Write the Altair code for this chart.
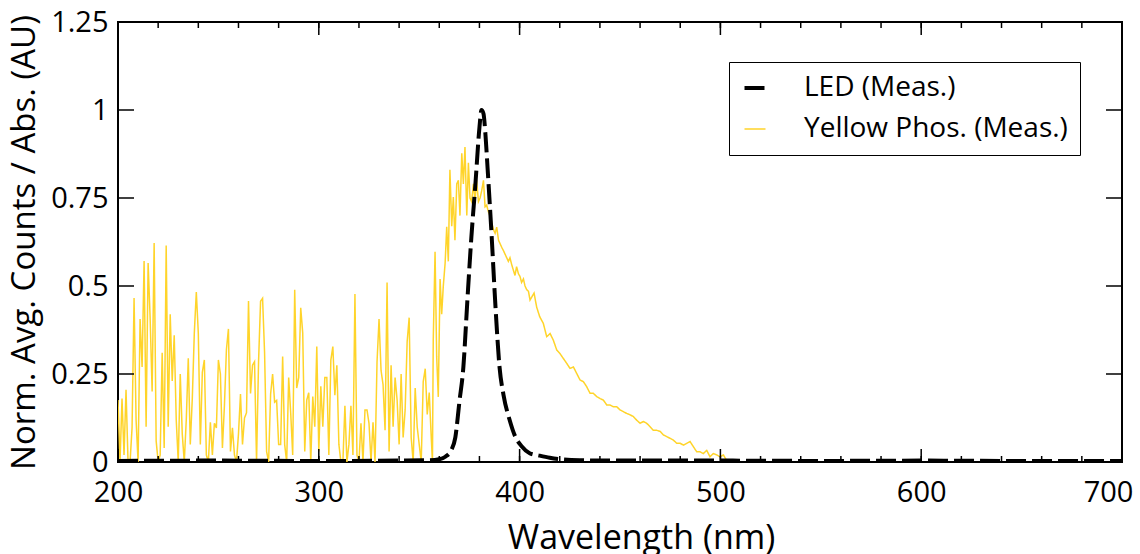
import altair as alt
import pandas as pd

# ---------------- data ----------------
SERIES_LED = "LED (Meas.)"
SERIES_YEL = "Yellow Phos. (Meas.)"

# Yellow phosphor: noisy part, 1 nm steps from 200 to 355 nm
yel_noise_start = 200
yel_noise_vals = [
    0.176, 0.0, 0.18, 0.02, 0.205, 0.0, 0.0, 0.097, 0.466, 0.12,
    0.0, 0.406, 0.27, 0.571, 0.1, 0.565, 0.41, 0.2, 0.622, 0.06,
    0.0, 0.02, 0.31, 0.04, 0.615, 0.1, 0.42, 0.23, 0.36, 0.12,
    0.0, 0.25, 0.08, 0.0, 0.12, 0.295, 0.05, 0.18, 0.366, 0.483,
    0.365, 0.05, 0.255, 0.29, 0.02, 0.0, 0.113, 0.02, 0.11, 0.097,
    0.29, 0.25, 0.04, 0.16, 0.32, 0.378, 0.03, 0.097, 0.02, 0.0,
    0.08, 0.193, 0.05, 0.125, 0.14, 0.457, 0.195, 0.275, 0.285, 0.0,
    0.285, 0.457, 0.465, 0.31, 0.03, 0.0, 0.193, 0.25, 0.17, 0.175,
    0.05, 0.05, 0.30, 0.05, 0.0, 0.24, 0.14, 0.02, 0.489, 0.21,
    0.24, 0.438, 0.366, 0.03, 0.176, 0.197, 0.0, 0.186, 0.1, 0.328,
    0.03, 0.215, 0.1, 0.24, 0.24, 0.02, 0.29, 0.328, 0.19, 0.275,
    0.05, 0.0, 0.0, 0.16, 0.0, 0.05, 0.16, 0.02, 0.477, 0.02,
    0.0, 0.11, 0.0, 0.148, 0.148, 0.11, 0.0, 0.113, 0.0, 0.285,
    0.406, 0.26, 0.22, 0.09, 0.51, 0.03, 0.275, 0.1, 0.24, 0.176,
    0.05, 0.25, 0.07, 0.148, 0.342, 0.41, 0.07, 0.0, 0.21, 0.1,
    0.05, 0.0, 0.228, 0.265, 0.135, 0.197,
]

# Yellow phosphor: emission band
yel_band_wl = [
    356.0, 356.6, 357.0, 357.9, 358.7, 359.5, 360.4, 361.2, 362.0, 362.9,
    363.7, 364.5, 365.3, 366.2, 367.0, 367.8, 368.7, 369.5, 370.3, 371.2,
    372.0, 372.8, 373.7, 374.5, 375.3, 376.1, 377.0, 377.8, 378.6, 379.5,
    380.3, 381.1, 382.0, 382.8, 383.6, 384.5, 385.3, 386.1, 387.0, 387.8,
    388.6, 389.5, 390.3, 391.1, 392.0, 392.8, 393.6, 394.4, 395.2, 396.1,
    396.9, 397.7, 398.5, 399.4, 400.2, 401.0, 401.9, 402.7, 403.5, 404.4,
    405.2, 407.2, 408.5, 410.0, 411.8, 413.5, 415.2, 416.8, 418.5, 420.1,
    421.8, 423.5, 425.1, 426.8, 428.4, 430.1, 431.8, 433.4, 435.1, 436.7,
    438.4, 440.1, 441.7, 443.4, 445.0, 446.7, 448.4, 450.0, 451.7, 453.3,
    455.0, 456.7, 458.3, 460.0, 461.6, 463.3, 465.0, 466.6, 468.3, 470.0,
    471.6, 473.3, 475.0, 476.6, 478.3, 480.0, 481.6, 483.2, 484.9, 486.6,
    488.2, 489.9, 491.5, 493.2, 494.8, 496.5, 498.2, 499.8, 501.5, 503.0,
]
yel_band_vals = [
    0.07, 0.0, 0.347, 0.597, 0.30, 0.185, 0.52, 0.42, 0.50, 0.564,
    0.668, 0.57, 0.83, 0.67, 0.753, 0.63, 0.79, 0.80, 0.70, 0.877,
    0.79, 0.895, 0.70, 0.85, 0.75, 0.74, 0.79, 0.74, 0.80, 0.74,
    0.75, 0.77, 0.80, 0.725, 0.73, 0.71, 0.70, 0.68, 0.66, 0.65,
    0.667, 0.63, 0.62, 0.61, 0.60, 0.59, 0.58, 0.57, 0.58, 0.56,
    0.545, 0.53, 0.555, 0.535, 0.527, 0.51, 0.52, 0.50, 0.49, 0.485,
    0.46, 0.48, 0.44, 0.413, 0.394, 0.356, 0.365, 0.346, 0.318, 0.308,
    0.294, 0.28, 0.266, 0.27, 0.252, 0.233, 0.228, 0.214, 0.195, 0.195,
    0.186, 0.18, 0.176, 0.162, 0.162, 0.157, 0.157, 0.148, 0.143, 0.138,
    0.134, 0.129, 0.119, 0.11, 0.115, 0.11, 0.1, 0.09, 0.09, 0.087,
    0.077, 0.072, 0.067, 0.062, 0.053, 0.053, 0.048, 0.053, 0.058, 0.043,
    0.029, 0.029, 0.024, 0.033, 0.015, 0.024, 0.02, 0.015, 0.02, 0.005,
]

# LED (measured)
led_wl = [
    200, 250, 300, 340, 355, 360, 363, 366, 368, 370,
    372, 374, 376, 378, 380, 381, 382, 383, 384, 386,
    388, 390, 392, 395, 398, 401, 405, 410, 415, 420,
    430, 450, 500, 550, 600, 650, 700,
]
led_vals = [
    0.003, 0.004, 0.003, 0.004, 0.005, 0.008, 0.015, 0.034, 0.07, 0.17,
    0.27, 0.46, 0.64, 0.79, 0.95, 1.0, 0.99, 0.93, 0.84, 0.65,
    0.44, 0.27, 0.19, 0.12, 0.07, 0.045, 0.025, 0.018, 0.012, 0.008,
    0.005, 0.004, 0.004, 0.003, 0.004, 0.003, 0.003,
]

x_major_ticks = [200, 300, 400, 500, 600, 700]
x_minor_ticks = list(range(200, 701, 20))
y_ticks = [0, 0.25, 0.5, 0.75, 1.0, 1.25]

# ---------------- build tables ----------------
yel_wl = list(range(yel_noise_start, yel_noise_start + len(yel_noise_vals))) + yel_band_wl
yel_val = yel_noise_vals + yel_band_vals
df_yel = pd.DataFrame({"wl": yel_wl, "val": yel_val, "series": SERIES_YEL})
df_led = pd.DataFrame({"wl": led_wl, "val": led_vals, "series": SERIES_LED})
df_xmaj = pd.DataFrame({"wl": x_major_ticks})
df_xmin = pd.DataFrame({"wl": x_minor_ticks})
df_yt = pd.DataFrame({"val": y_ticks})

FONT = "Open Sans"
dom = [SERIES_LED, SERIES_YEL]
W, H = 1004, 440

xscale = alt.Scale(domain=[200, 700], nice=False, zero=False)
yscale = alt.Scale(domain=[0, 1.25], nice=False, zero=False)

legend = alt.Legend(
    title=None, orient="none", legendX=611, legendY=40,
    strokeColor="black", fillColor="white", padding=12,
    labelFont=FONT, labelFontSize=28, labelColor="black",
    symbolType="stroke", symbolSize=441, labelOffset=35, rowPadding=13,
    labelLimit=400,
)
color = alt.Color("series:N", scale=alt.Scale(domain=dom, range=["#000000", "#FFD42A"]), legend=legend)
dash = alt.StrokeDash("series:N", scale=alt.Scale(domain=dom, range=[[20, 6], [1, 0]]), legend=legend)
width = alt.StrokeWidth("series:N", scale=alt.Scale(domain=dom, range=[4, 1.5]), legend=legend)

ax_bottom = alt.Axis(
    orient="bottom", values=x_major_ticks, ticks=False, domain=False, grid=False,
    labelPadding=16, labelFont=FONT, labelFontSize=29, labelColor="black",
    labelFlush=False, labelOverlap=False,
    labelOffset={"expr": "datum.value == 700 ? -14 : 0"},
    labelExpr="'' + datum.value",
    title="Wavelength (nm)", titleFont=FONT, titleFontSize=34,
    titleFontWeight="normal", titleColor="black", titlePadding=14,
    titleX=W / 2 + 21, titleAlign="center",
)
ax_left = alt.Axis(
    orient="left", values=y_ticks, ticks=False, domain=False, grid=False,
    labelPadding=10, labelFont=FONT, labelFontSize=29, labelColor="black",
    labelFlush=False, labelOverlap=False,
    labelExpr="'' + datum.value",
    title="Norm. Avg. Counts / Abs. (AU)", titleFont=FONT, titleFontSize=33,
    titleFontWeight="normal", titleColor="black", titlePadding=9,
)

# every layer shares the same x/y scales and axis definitions
x_enc = alt.X("wl:Q", scale=xscale, axis=ax_bottom)
y_enc = alt.Y("val:Q", scale=yscale, axis=ax_left)

yel_layer = alt.Chart(df_yel).mark_line(clip=True, interpolate="linear").encode(
    x=x_enc, y=y_enc, color=color, strokeDash=dash, strokeWidth=width,
)
led_layer = alt.Chart(df_led).mark_line(clip=True, interpolate="monotone").encode(
    x=x_enc, y=y_enc, color=color, strokeDash=dash, strokeWidth=width,
)

# inward tick marks on all four sides (positions from the tick arrays)
tick_style = dict(color="black", strokeWidth=1.5)
t_bottom_major = alt.Chart(df_xmaj).mark_rule(**tick_style).encode(
    x=x_enc, y=alt.value(H), y2=alt.value(H - 13))
t_bottom_minor = alt.Chart(df_xmin).mark_rule(**tick_style).encode(
    x=x_enc, y=alt.value(H), y2=alt.value(H - 6))
t_top_major = alt.Chart(df_xmaj).mark_rule(**tick_style).encode(
    x=x_enc, y=alt.value(0), y2=alt.value(13))
t_top_minor = alt.Chart(df_xmin).mark_rule(**tick_style).encode(
    x=x_enc, y=alt.value(0), y2=alt.value(6))
t_left = alt.Chart(df_yt).mark_rule(**tick_style).encode(
    y=y_enc, x=alt.value(0), x2=alt.value(16))
t_right = alt.Chart(df_yt).mark_rule(**tick_style).encode(
    y=y_enc, x=alt.value(W), x2=alt.value(W - 16))

chart = (
    alt.layer(yel_layer, led_layer, t_bottom_major, t_bottom_minor,
              t_top_major, t_top_minor, t_left, t_right)
    .properties(
        width=W, height=H,
        padding={"left": 118, "top": 22, "right": 18, "bottom": 92},
        autosize=alt.AutoSizeParams(type="none"),
        background="white",
    )
    .configure_view(stroke="black", strokeWidth=2)
)

chart.save("out.html", embed_options={"renderer": "svg", "actions": False})
